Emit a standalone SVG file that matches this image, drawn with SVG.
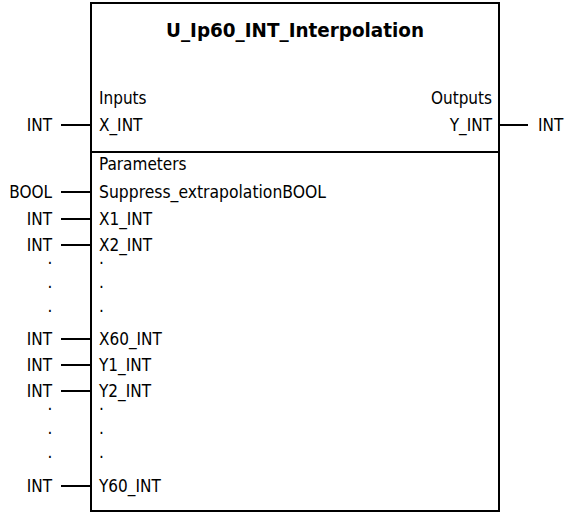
<svg xmlns="http://www.w3.org/2000/svg" width="567" height="512" viewBox="0 0 567 512">
<style>
text{font-family:"DejaVu Sans Condensed","DejaVu Sans","Liberation Sans",sans-serif;font-stretch:condensed;font-size:17px;fill:#000}
.t{font-weight:bold;font-size:19px}
.e{text-anchor:end}
.m{text-anchor:middle}
.b{fill:#fff;stroke:#000;stroke-width:2}
.c line{stroke:#000;stroke-width:2}
</style>
<rect width="567" height="512" fill="#fff"/>
<g id="block">
<rect class="b" x="91" y="3" width="408" height="508"/>
<line x1="91" y1="152" x2="499" y2="152" stroke="#000" stroke-width="2"/>
<text class="t m" x="295" y="37" textLength="258" lengthAdjust="spacingAndGlyphs">U_Ip60_INT_Interpolation</text>
<text x="99" y="104">Inputs</text>
<text x="99" y="131">X_INT</text>
<text class="e" x="492" y="104">Outputs</text>
<text class="e" x="492" y="131">Y_INT</text>
<text x="99" y="170">Parameters</text>
<text x="99" y="198" textLength="227" lengthAdjust="spacingAndGlyphs">Suppress_extrapolationBOOL</text>
<text x="99" y="225">X1_INT</text>
<text x="99" y="251">X2_INT</text>
<text x="99" y="264">.</text>
<text x="99" y="288">.</text>
<text x="99" y="312">.</text>
<text x="99" y="345">X60_INT</text>
<text x="99" y="371">Y1_INT</text>
<text x="99" y="397">Y2_INT</text>
<text x="99" y="410">.</text>
<text x="99" y="434">.</text>
<text x="99" y="458">.</text>
<text x="99" y="492">Y60_INT</text>
</g>
<g id="types">
<text class="e" x="52" y="131">INT</text>
<text class="e" x="52" y="198">BOOL</text>
<text class="e" x="52" y="225">INT</text>
<text class="e" x="52" y="251">INT</text>
<text class="m" x="50" y="264">.</text>
<text class="m" x="50" y="288">.</text>
<text class="m" x="50" y="312">.</text>
<text class="e" x="52" y="345">INT</text>
<text class="e" x="52" y="371">INT</text>
<text class="e" x="52" y="397">INT</text>
<text class="m" x="50" y="410">.</text>
<text class="m" x="50" y="434">.</text>
<text class="m" x="50" y="458">.</text>
<text class="e" x="52" y="492">INT</text>
<text x="538" y="131">INT</text>
</g>
<g id="connectors" class="c">
<line x1="61" y1="125" x2="91" y2="125"/>
<line x1="61" y1="192" x2="91" y2="192"/>
<line x1="61" y1="219" x2="91" y2="219"/>
<line x1="61" y1="245" x2="91" y2="245"/>
<line x1="61" y1="339" x2="91" y2="339"/>
<line x1="61" y1="365" x2="91" y2="365"/>
<line x1="61" y1="391" x2="91" y2="391"/>
<line x1="61" y1="486" x2="91" y2="486"/>
<line x1="499" y1="125" x2="528" y2="125"/>
</g>
</svg>
